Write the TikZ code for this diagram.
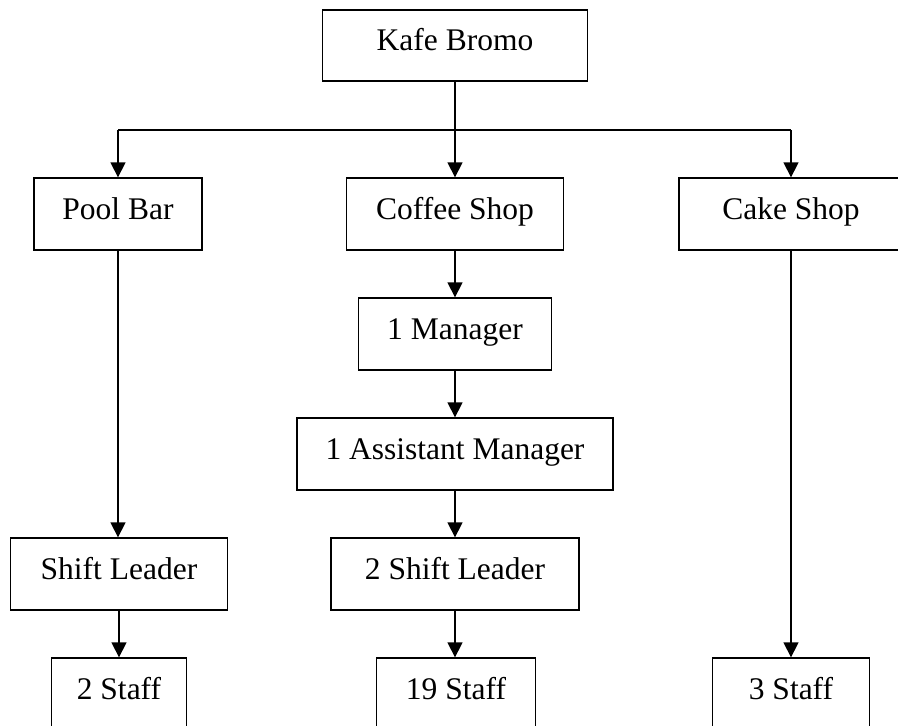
\documentclass[tikz,border=0pt]{standalone}
\usepackage{fontspec}
\setmainfont{Liberation Serif}
\usetikzlibrary{arrows.meta}
\begin{document}
\begin{tikzpicture}[x=1pt,y=-1pt,
  box/.style={draw=black,line width=1.3pt,minimum height=72pt,inner sep=0pt,
    font=\fontsize{31.5}{36}\selectfont,text height=20.5pt,text depth=10.5pt,align=center},
  conn/.style={draw=black,line width=1.3pt},
  arr/.style={conn,-{Triangle[width=15pt,length=15pt]}}]
\useasboundingbox (0,0) rectangle (898,726);
\node[box,minimum width=265pt,minimum height=71pt] (kafe) at (455,45.5) {Kafe Bromo};
\node[box,minimum width=168pt] (pool) at (118,214) {Pool Bar};
\node[box,minimum width=217pt] (coffee) at (455,214) {Coffee Shop};
\node[box,minimum width=224pt] (cake) at (791,214) {Cake Shop};
\node[box,minimum width=193pt] (mgr) at (455,334) {1 Manager};
\node[box,minimum width=316pt] (asst) at (455,454) {1 Assistant Manager};
\node[box,minimum width=217pt] (shl) at (119,574) {Shift Leader};
\node[box,minimum width=248pt] (shl2) at (455,574) {2 Shift Leader};
\node[box,minimum width=135pt] (st2) at (119,694) {2 Staff};
\node[box,minimum width=159pt] (st19) at (456,694) {19 Staff};
\node[box,minimum width=157pt] (st3) at (791,694) {3 Staff};
\coordinate (j) at (455,130);
\draw[conn] (kafe.south) -- (kafe.south |- j);
\draw[conn] (pool.north |- j) -- (cake.north |- j);
\draw[arr] (pool.north |- j) -- (pool.north);
\draw[arr] (coffee.north |- j) -- (coffee.north);
\draw[arr] (cake.north |- j) -- (cake.north);
\draw[arr] (pool.south) -- (pool.south |- shl.north);
\draw[arr] (shl.south) -- (shl.south |- st2.north);
\draw[arr] (coffee.south) -- (coffee.south |- mgr.north);
\draw[arr] (mgr.south) -- (mgr.south |- asst.north);
\draw[arr] (asst.south) -- (asst.south |- shl2.north);
\draw[arr] (shl2.south) -- (shl2.south |- st19.north);
\draw[arr] (cake.south) -- (cake.south |- st3.north);
\end{tikzpicture}
\end{document}
